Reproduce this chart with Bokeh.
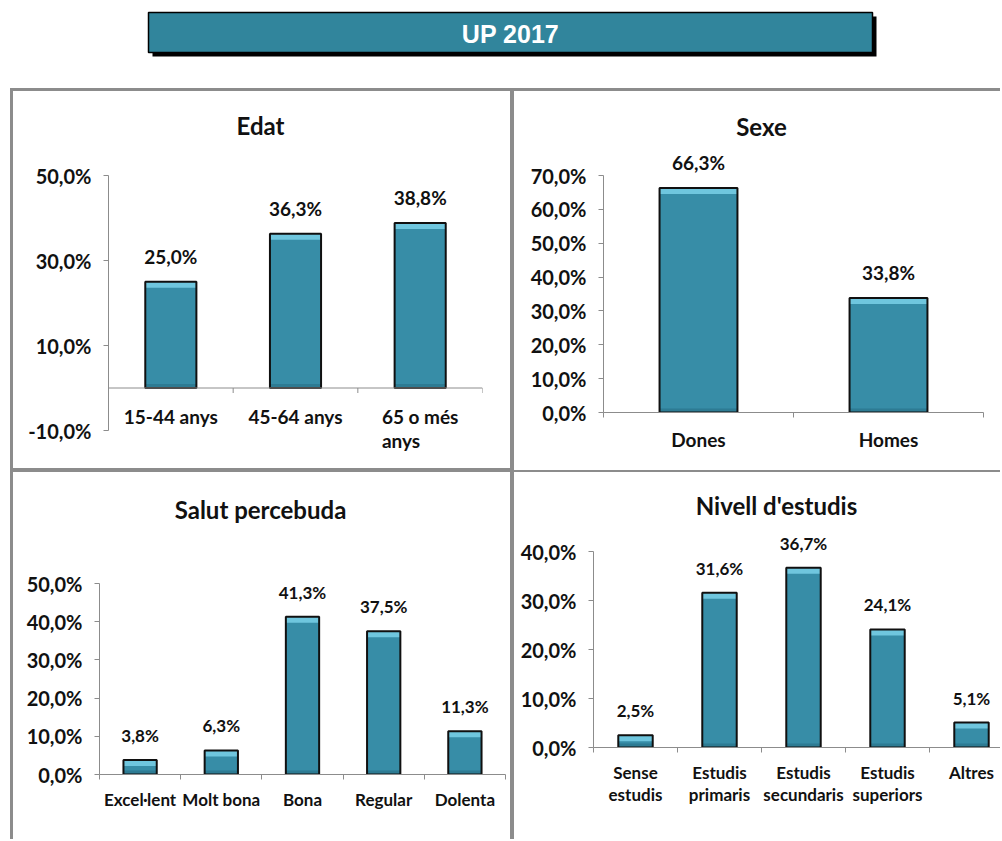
import math
from bokeh.plotting import figure
from bokeh.layouts import column, row
from bokeh.models import (Range1d, FixedTicker, CustomJSTickFormatter, Span,
                          Spacer, ColumnDataSource, LabelSet, Label)
from bokeh.core.properties import value
from bokeh.embed import file_html
from bokeh.resources import INLINE

# ---------------- data ----------------
main_title = "UP 2017"

edat_title = "Edat"
edat_cats = ["15-44 anys", "45-64 anys", "65 o més\nanys"]
edat_vals = [25.0, 36.3, 38.8]

sexe_title = "Sexe"
sexe_cats = ["Dones", "Homes"]
sexe_vals = [66.3, 33.8]

salut_title = "Salut percebuda"
salut_cats = ["Excel·lent", "Molt bona", "Bona", "Regular", "Dolenta"]
salut_vals = [3.8, 6.3, 41.3, 37.5, 11.3]

estudis_title = "Nivell d'estudis"
estudis_cats = ["Sense\nestudis", "Estudis\nprimaris", "Estudis\nsecundaris",
                "Estudis\nsuperiors", "Altres"]
estudis_vals = [2.5, 31.6, 36.7, 24.1, 5.1]

edat_yticks = [-10, 10, 30, 50]
sexe_yticks = [0, 10, 20, 30, 40, 50, 60, 70]
salut_yticks = [0, 10, 20, 30, 40, 50]
estudis_yticks = [0, 10, 20, 30, 40]

# ---------------- styles ----------------
FONT = "Lato"
BAR = "#378DA7"
BAR_TOP = "#6FC6DE"
BAR_BOT = "#2D7B93"
EDGE = "#101010"
AXIS = "#8C8C8C"
BORDER = "#8C8C8C"
TEAL = "#31859C"
INK = "#111111"

YFMT = "return tick.toFixed(1).replace('.', ',') + '%';"


def pct(v):
    return f"{v:.1f}".replace(".", ",") + "%"


def make_panel(title, cats, vals, yticks, canvas, frame, ytop_px, ybot_px,
               spacing, title_px, tick_px, cat_px, lab_px, shadow,
               axis_at_zero=False, cat_standoff=10, cat_lh=1.1):
    """canvas=(x0, y0, w, h), frame=(left, right, top, bottom) in page px."""
    n = len(cats)
    cx0, cy0, w, h = canvas
    fl, fr, ft, fb = frame
    ytop, ybot = max(yticks), min(yticks)
    ppu = (ybot_px - ytop_px) / (ytop - ybot)
    y_end = ytop + (ytop_px - ft) / ppu
    y_start = ybot - (fb - ybot_px) / ppu
    x_end = (fr - fl) / spacing

    p = figure(width=w, height=h, x_range=Range1d(0, x_end),
               y_range=Range1d(y_start, y_end), toolbar_location=None,
               output_backend="svg", min_border_left=fl - cx0,
               min_border_right=cx0 + w - fr, min_border_top=ft - cy0,
               min_border_bottom=cy0 + h - fb,
               x_axis_location=None if axis_at_zero else "below",
               frame_align=False,
               styles={"background-color": "white", "box-shadow": shadow})
    p.border_fill_alpha = 0
    p.background_fill_alpha = 0
    p.outline_line_color = None
    p.grid.visible = False

    # chart title, placed at its pixel position through the scales
    tx = (title_px[0] - fl) / spacing
    ty = ytop + (ytop_px - title_px[1]) / ppu
    p.add_layout(Label(x=tx, y=ty, text=title, text_font=FONT,
                       text_font_style="bold", text_font_size="24px",
                       text_color=INK, text_align="center",
                       text_baseline="middle"))

    ya = p.yaxis[0]
    ya.bounds = (ybot, ytop)
    ya.ticker = FixedTicker(ticks=yticks, minor_ticks=[])
    ya.formatter = CustomJSTickFormatter(code=YFMT)
    ya.axis_line_color = AXIS
    ya.major_tick_line_color = AXIS
    ya.major_tick_out = 5
    ya.major_tick_in = 0
    ya.minor_tick_out = 0
    ya.minor_tick_in = 0
    ya.major_label_text_font = FONT
    ya.major_label_text_font_style = "bold"
    ya.major_label_text_font_size = f"{tick_px}px"
    ya.major_label_text_color = INK
    ya.major_label_standoff = 12

    centers = [i + 0.5 for i in range(n)]
    bounds = list(range(n + 1))

    if axis_at_zero:
        p.add_layout(Span(location=0, dimension="width", line_color=AXIS,
                          line_width=1))
        p.ray(x=bounds, y=[0] * len(bounds), length=5, length_units="screen",
              angle=-math.pi / 2, line_color=AXIS, line_width=1)
        csrc = ColumnDataSource(dict(x=centers, y=[0] * n, t=cats))
        p.add_layout(LabelSet(x="x", y="y", text="t", source=csrc,
                              text_font=value(FONT), text_font_style="bold",
                              text_font_size=f"{cat_px}px", text_align="center",
                              text_baseline="top", y_offset=-cat_standoff,
                              text_line_height=cat_lh, text_color=INK))
    else:
        xa = p.xaxis[0]
        xa.ticker = FixedTicker(ticks=centers, minor_ticks=bounds)
        xa.formatter = CustomJSTickFormatter(
            args=dict(labels=cats), code="return labels[Math.round(tick - 0.5)];")
        xa.axis_line_color = AXIS
        xa.major_tick_out = 0
        xa.major_tick_in = 0
        xa.minor_tick_out = 5
        xa.minor_tick_in = 0
        xa.minor_tick_line_color = AXIS
        xa.major_label_text_font = FONT
        xa.major_label_text_font_style = "bold"
        xa.major_label_text_font_size = f"{cat_px}px"
        xa.major_label_text_color = INK
        xa.major_label_text_line_height = cat_lh
        xa.major_label_standoff = cat_standoff

    src = ColumnDataSource(dict(
        x=centers, top=vals,
        band=[v - 6 / ppu for v in vals],
        low=[min(4 / ppu, v) for v in vals],
        label=[pct(v) for v in vals]))
    bw = 0.41
    p.vbar(x="x", top="top", bottom=0, width=bw, fill_color=BAR,
           line_color=None, source=src)
    p.vbar(x="x", top="top", bottom="band", width=bw, fill_color=BAR_TOP,
           line_color=None, source=src)
    p.vbar(x="x", top="low", bottom=0, width=bw, fill_color=BAR_BOT,
           line_color=None, source=src)
    p.vbar(x="x", top="top", bottom=0, width=bw, fill_color=None,
           line_color=EDGE, line_width=2, source=src)
    p.add_layout(LabelSet(x="x", y="top", text="label", source=src,
                          text_font=value(FONT), text_font_style="bold",
                          text_font_size=f"{lab_px}px", text_align="center",
                          text_baseline="bottom", y_offset=14, text_color=INK))
    return p


# ---------------- title bar ----------------
tf = figure(width=1000, height=88, x_range=Range1d(0, 1000), y_range=Range1d(88, 0),
            toolbar_location=None, output_backend="svg", min_border=0)
tf.axis.visible = False
tf.grid.visible = False
tf.outline_line_color = None
tf.quad(left=[152], right=[876], top=[16], bottom=[56], fill_color="black",
        line_color=None)
tf.quad(left=[148], right=[872], top=[12], bottom=[52], fill_color=TEAL,
        line_color="black", line_width=1.5)
tf.text(x=[510], y=[33], text=[main_title], text_font=value("Liberation Sans"),
        text_font_style="bold", text_font_size="25px", text_color="white",
        text_align="center", text_baseline="middle")

c = BORDER
p1 = make_panel(edat_title, edat_cats, edat_vals, edat_yticks,
                (10, 88, 502, 382), (108, 482, 92, 467), 175, 430, 124.67,
                (260, 125), 20, 19, 19,
                f"inset 3px 0 0 0 {c}, inset 0 3px 0 0 {c}, inset -2px 0 0 0 {c}, inset 0 -2px 0 0 {c}",
                axis_at_zero=True, cat_standoff=17, cat_lh=1.05)
p2 = make_panel(sexe_title, sexe_cats, sexe_vals, sexe_yticks,
                (512, 88, 488, 382), (603, 983, 92, 412), 175, 412, 190,
                (761, 126), 20, 19, 19,
                f"inset 2px 0 0 0 {c}, inset 0 3px 0 0 {c}",
                cat_standoff=10)
p3 = make_panel(salut_title, salut_cats, salut_vals, salut_yticks,
                (10, 470, 502, 369), (99, 505, 474, 774), 583, 774, 81.2,
                (260, 509), 20, 17, 17,
                f"inset 3px 0 0 0 {c}, inset 0 2px 0 0 {c}, inset -2px 0 0 0 {c}",
                cat_standoff=9)
p4 = make_panel(estudis_title, estudis_cats, estudis_vals, estudis_yticks,
                (512, 470, 488, 369), (593, 1000, 474, 747), 551, 747, 84,
                (776, 505), 20, 17, 17,
                f"inset 2px 0 0 0 {c}, inset 0 2px 0 0 {c}",
                cat_standoff=9, cat_lh=1.05)

layout = column(tf,
                row(Spacer(width=10, height=382), p1, p2),
                row(Spacer(width=10, height=369), p3, p4))

open("out.html", "w").write(file_html(layout, INLINE))
